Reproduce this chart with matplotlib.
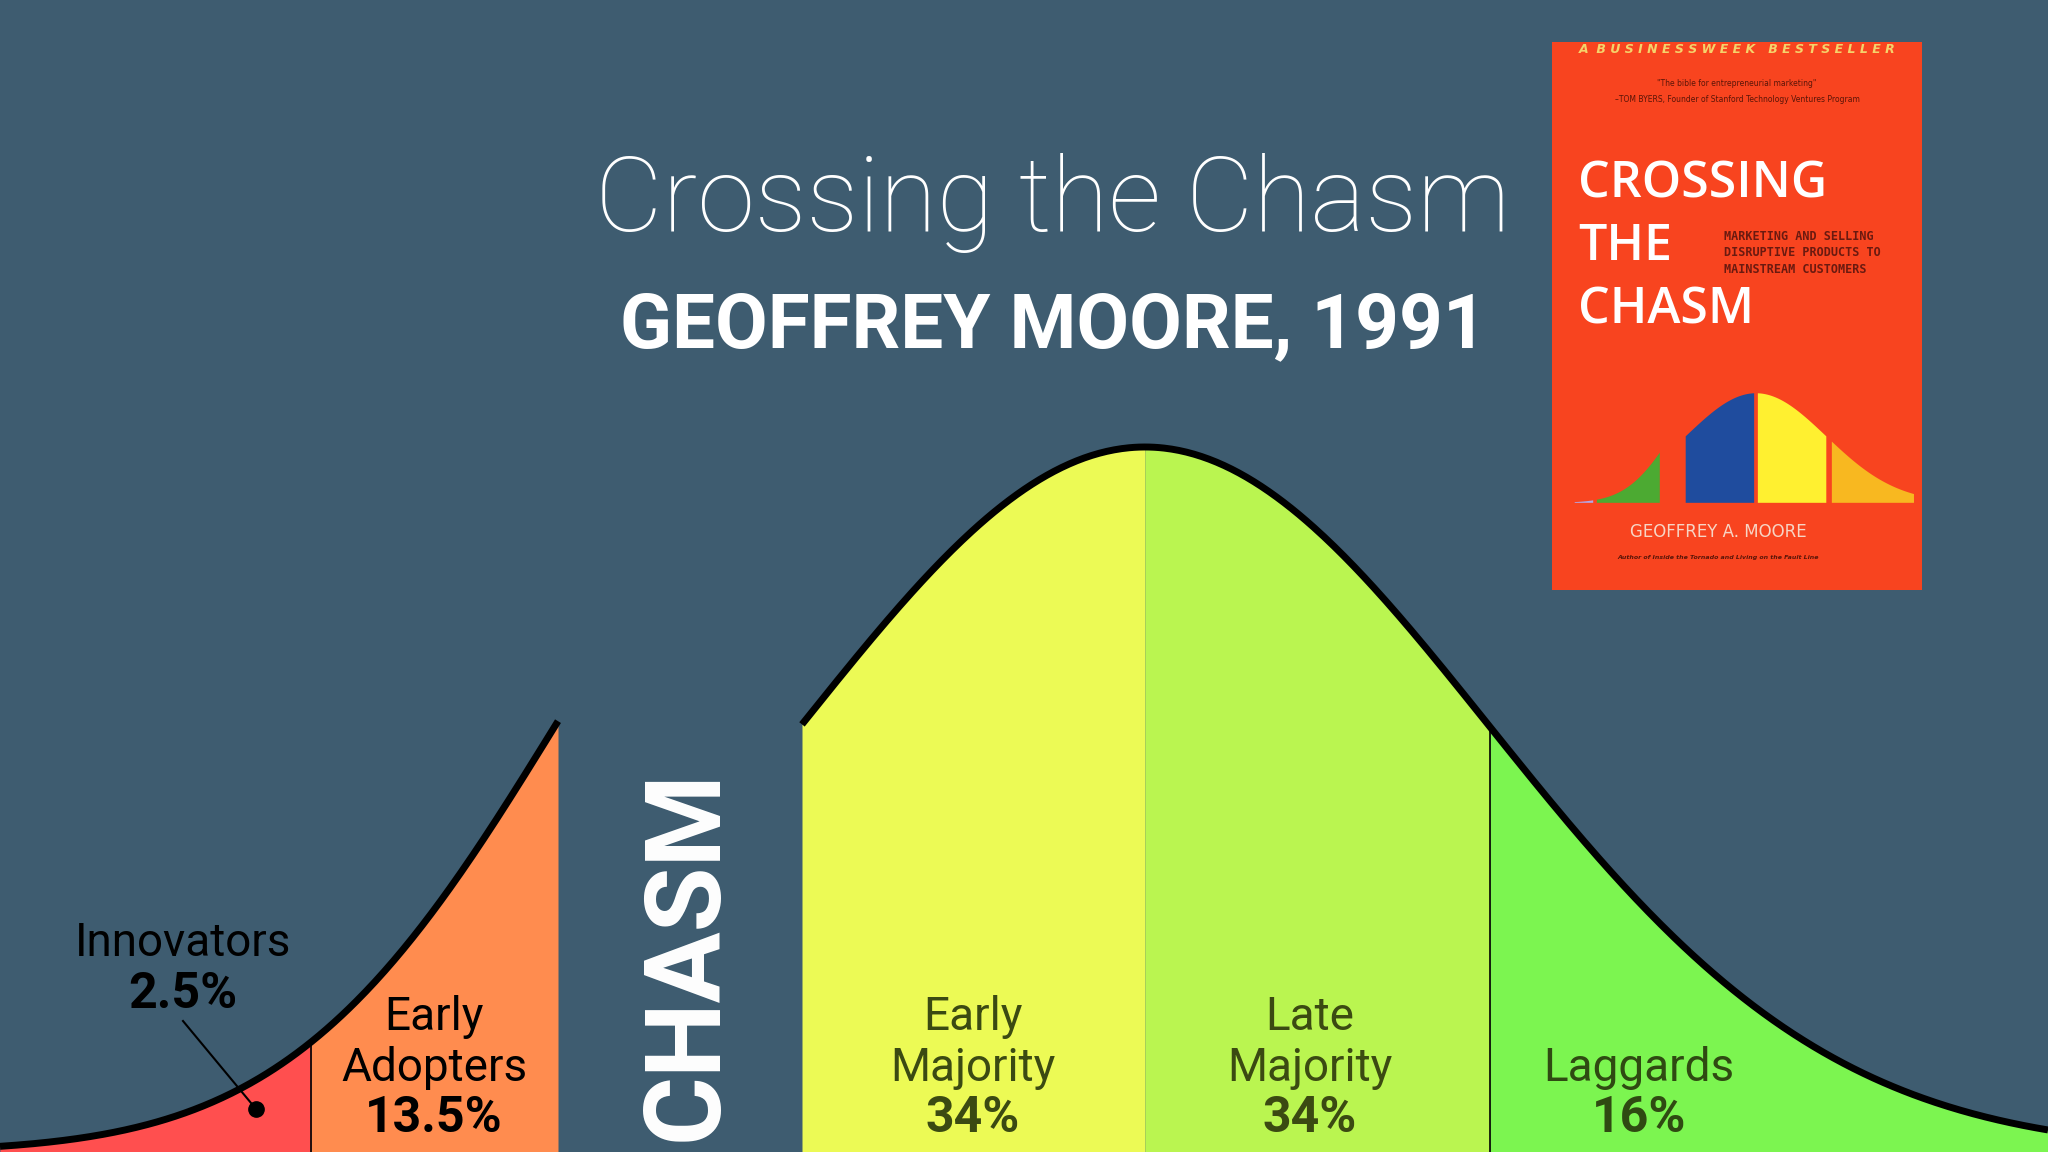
import numpy as np
import matplotlib.pyplot as plt

BG = "#3e5c70"

# segments of the adoption curve (pixel-like x positions)
names = ["Innovators", "Early\nAdopters", "Early\nMajority", "Late\nMajority", "Laggards"]
shares = ["2.5%", "13.5%", "34%", "34%", "16%"]
seg_lo = [0, 311, 802, 1145, 1490]
seg_hi = [311, 558, 1145, 1490, 2048]
colors = ["#ff4f4f", "#ff8c4f", "#ecfa55", "#baf550", "#7cf550"]
txt_col = ["black", "black", "#3b4a12", "#3b4a12", "#2f4a12"]

peak_h = 705
left_mu, left_sd = 820, 264     # left piece (before the chasm)
right_mu, right_sd = 1145, 343  # main piece (after the chasm)
chasm = (558, 802)


def height(x, left):
    mu, sd = (left_mu, left_sd) if left else (right_mu, right_sd)
    return peak_h * np.exp(-0.5 * ((x - mu) / sd) ** 2)


fig = plt.figure(figsize=(20.48, 11.52), dpi=100, facecolor=BG)
ax = fig.add_axes([0, 0, 1, 1])
ax.set_facecolor(BG)
ax.set_xlim(0, 2048)
ax.set_ylim(1152, 0)
ax.axis("off")

for i in range(5):
    left = seg_hi[i] <= chasm[0]
    xs = np.linspace(seg_lo[i], seg_hi[i], 200)
    ax.fill_between(xs, 1152, 1152 - height(xs, left), color=colors[i], lw=0, zorder=1)
    if i in (0, 3):
        ax.plot([seg_hi[i]] * 2, [1152, 1152 - height(seg_hi[i], left)], color="black", lw=1.2, zorder=2)

xl = np.linspace(0, chasm[0], 300)
ax.plot(xl, 1152 - height(xl, True), color="black", lw=5, zorder=3, solid_capstyle="butt")
xr = np.linspace(chasm[1], 2048, 500)
ax.plot(xr, 1152 - height(xr, False), color="black", lw=5, zorder=3, solid_capstyle="butt")

# labels
lab_x = [183, 434, 973, 1310, 1639]
for i in range(5):
    if i == 0:
        ax.text(lab_x[i], 943, names[i], ha="center", va="center", fontsize=33,
                family="Roboto", color="black")
        ax.text(lab_x[i], 995, shares[i], ha="center", va="center", fontsize=36,
                family="Roboto", weight="bold", color="black")
        ax.plot([183, 256], [1021, 1109], color="black", lw=1.5)
        ax.plot(256, 1109, "o", color="black", ms=11)
        continue
    n = names[i].count("\n") + 1
    ys = [1119 - 51 * k for k in range(n, 0, -1)]
    for k, line in enumerate(names[i].split("\n")):
        ax.text(lab_x[i], ys[k], line, ha="center", va="center", fontsize=33,
                family="Roboto", color=txt_col[i])
    ax.text(lab_x[i], 1119, shares[i], ha="center", va="center", fontsize=36,
            family="Roboto", weight="bold", color=txt_col[i])

ax.text(688, 955, "CHASM", rotation=90, ha="center", va="center", fontsize=76,
        family="Roboto", weight="bold", color="white")

ax.text(1053, 203, "Crossing the Chasm", ha="center", va="center", fontsize=75,
        family="Roboto", weight="light", color="white")
ax.text(1053, 327, "GEOFFREY MOORE, 1991", ha="center", va="center", fontsize=55,
        family="Roboto", weight="bold", color="white")

# book cover
bk = fig.add_axes([1552 / 2048, 1 - 590 / 1152, 370 / 2048, 548 / 1152])
bk.set_xlim(0, 1)
bk.set_ylim(1, 0)
bk.set_facecolor("#f8441f")
bk.set_xticks([])
bk.set_yticks([])
for s in bk.spines.values():
    s.set_visible(False)

bk.text(0.5, 0.013, "A  B U S I N E S S W E E K   B E S T S E L L E R", ha="center", va="center",
        fontsize=9, weight="bold", style="italic", color="#f5d36b", family="DejaVu Sans")
bk.text(0.5, 0.075, "\"The bible for entrepreneurial marketing\"", ha="center", va="center",
        fontsize=5.5, color="#5a1508")
bk.text(0.5, 0.105, "–TOM BYERS, Founder of Stanford Technology Ventures Program", ha="center",
        va="center", fontsize=5.5, color="#5a1508")
for word, y in zip(["CROSSING", "THE", "CHASM"], [0.26, 0.375, 0.49]):
    bk.text(0.07, y, word, ha="left", va="center", fontsize=36, color="white",
            weight="semibold", family="Open Sans")
for line, y in zip(["MARKETING AND SELLING", "DISRUPTIVE PRODUCTS TO", "MAINSTREAM CUSTOMERS"],
                   [0.355, 0.385, 0.415]):
    bk.text(0.465, y, line, ha="left", va="center", fontsize=8.5, weight="bold",
            color="#6a1a10", family="DejaVu Sans Mono")
bk.text(0.45, 0.895, "GEOFFREY A. MOORE", ha="center", va="center", fontsize=12,
        color="#f7d5c5", family="DejaVu Sans")
bk.text(0.45, 0.94, "Author of Inside the Tornado and Living on the Fault Line", ha="center",
        va="center", fontsize=4.5, style="italic", weight="bold", color="#5a1508")

# mini curve on the cover
mini_lo = [0.06, 0.12, 0.36, 0.555, 0.755]
mini_hi = [0.11, 0.29, 0.545, 0.74, 0.977]
mini_col = ["#b4a8e8", "#4caa32", "#1f4c9e", "#fff030", "#f8b820"]
base, top = 0.84, 0.64
for i in range(5):
    xs = np.linspace(mini_lo[i], mini_hi[i], 100)
    if i < 2:
        h = np.exp(-0.5 * ((xs - 0.44) / 0.12) ** 2)
    else:
        h = np.exp(-0.5 * ((xs - 0.55) / 0.19) ** 2)
    bk.fill_between(xs, base, base - (base - top) * h, color=mini_col[i], lw=0)

fig.savefig("out.png", dpi=100, facecolor=BG)
